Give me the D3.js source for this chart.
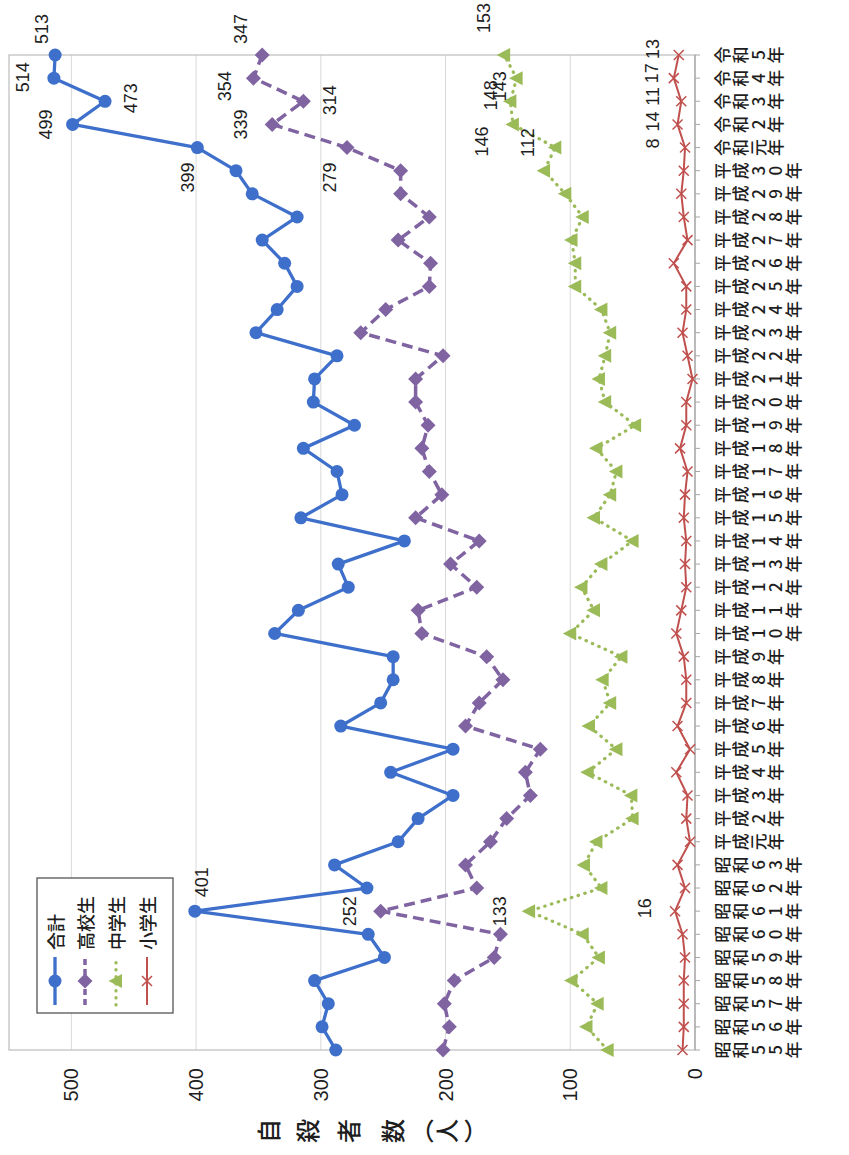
<!DOCTYPE html>
<html lang="ja">
<head>
<meta charset="utf-8">
<script src="https://cdn.jsdelivr.net/npm/d3@7"></script>
<style>
  html, body { margin: 0; padding: 0; background: #fff; }
  svg { display: block; }
  .num { font-family: "Liberation Sans", Arial, "Noto Sans CJK JP", sans-serif; fill: #1e1e1e; }
  .jp  { font-family: "Noto Sans CJK JP", sans-serif; fill: #1e1e1e; }
</style>
</head>
<body>
<svg id="chart" width="849" height="1155"></svg>
<script>
// 年度（昭和55年〜令和5年）
const years = [
  "昭和55年","昭和56年","昭和57年","昭和58年","昭和59年","昭和60年","昭和61年","昭和62年","昭和63年",
  "平成元年","平成2年","平成3年","平成4年","平成5年","平成6年","平成7年","平成8年","平成9年","平成10年",
  "平成11年","平成12年","平成13年","平成14年","平成15年","平成16年","平成17年","平成18年","平成19年","平成20年",
  "平成21年","平成22年","平成23年","平成24年","平成25年","平成26年","平成27年","平成28年","平成29年","平成30年",
  "令和元年","令和2年","令和3年","令和4年","令和5年"
];

// 自殺者数（人）
const total = [288,299,294,305,249,262,401,263,289,238,222,194,244,194,284,252,242,242,337,318,278,286,233,316,283,287,314,273,306,305,287,352,335,319,329,347,319,355,368,399,499,473,514,513];
const highSchool = [202,197,201,193,161,156,252,175,184,164,151,132,136,124,184,173,154,167,219,222,175,196,173,224,203,213,219,214,224,224,202,268,248,213,212,238,213,236,236,279,339,314,354,347];
const juniorHigh = [70,87,78,99,77,90,133,75,89,79,50,51,86,63,85,68,74,59,100,81,91,75,50,81,68,63,79,48,72,77,72,68,75,96,96,99,90,104,121,112,146,148,143,153];
const elementary = [10,9,9,9,8,10,16,8,14,4,7,6,15,4,14,7,7,9,15,11,7,8,7,9,8,6,12,7,7,2,6,10,7,7,17,6,9,11,9,8,14,11,17,13];

const valueTicks = [0, 100, 200, 300, 400, 500];
const seriesNames = ["合計", "高校生", "中学生", "小学生"];
const axisTitle = ["自", "殺", "者", "数", "︵", "人", "︶"];

// Years that carry value labels
const labelledYears = ["昭和61年", "令和元年", "令和2年", "令和3年", "令和4年", "令和5年"];

// Label offsets (dx along the year axis, dy along the value axis), per series and labelled year
const labelOffsets = {
  total:      [[29, 7], [-30, -9], [0, -27], [3, 26], [1, -31], [26, -13]],
  highSchool: [[0, -31], [-30, -17], [0, -31], [1, 27], [-8, -28], [26, -21]],
  juniorHigh: [[0, -29], [5, -27], [-17, -31], [6, -19], [-8, -17], [37, -20]],
  elementary: [[3, -30], [4, -32], [3, -25], [5, -28], [5, -22], [6, -26]]
};

const svg = d3.select("#chart");
svg.append("rect").attr("width", 849).attr("height", 1155).attr("fill", "#fff");

// The chart is laid out in a 1155 x 849 frame and turned a quarter turn counter-clockwise
const g = svg.append("g").attr("transform", "translate(0,1155) rotate(-90)");

const plot = { left: 105, right: 1100, top: 9, bottom: 695 };

const x = d3.scalePoint().domain(years).range([plot.left, plot.right]).padding(0);
const y = d3.scaleLinear().domain([0, 550]).range([plot.bottom, plot.top]);

// Gridlines
g.append("g").selectAll("line")
  .data(valueTicks.filter(t => t > 0))
  .join("line")
  .attr("x1", plot.left).attr("x2", plot.right)
  .attr("y1", d => y(d)).attr("y2", d => y(d))
  .attr("stroke", "#d9d9d9").attr("stroke-width", 1);

// Plot frame
g.append("rect")
  .attr("x", plot.left).attr("y", plot.top)
  .attr("width", plot.right - plot.left).attr("height", plot.bottom - plot.top)
  .attr("fill", "none").attr("stroke", "#bdbdbd").attr("stroke-width", 1.2);

// Category axis line and tick marks
g.append("line")
  .attr("x1", plot.left).attr("x2", plot.right)
  .attr("y1", plot.bottom).attr("y2", plot.bottom)
  .attr("stroke", "#a6a6a6").attr("stroke-width", 1.2);
g.append("g").selectAll("line")
  .data(years)
  .join("line")
  .attr("x1", d => x(d)).attr("x2", d => x(d))
  .attr("y1", plot.bottom).attr("y2", plot.bottom + 5)
  .attr("stroke", "#a6a6a6").attr("stroke-width", 1);

// Value axis labels
g.append("g").selectAll("text")
  .data(valueTicks)
  .join("text")
  .attr("class", "num")
  .attr("x", plot.left - 18)
  .attr("y", d => y(d))
  .attr("text-anchor", "end")
  .attr("dominant-baseline", "central")
  .attr("font-size", 20)
  .text(d => d);

// Value axis title, written top to bottom
const titleAdvance = [0, 39, 41, 44, 29, 25, 29];
g.append("g").selectAll("text")
  .data(axisTitle)
  .join("text")
  .attr("class", "jp")
  .attr("x", 24)
  .attr("y", (d, i) => 267 + d3.sum(titleAdvance.slice(0, i + 1)))
  .attr("text-anchor", "middle")
  .attr("dominant-baseline", "central")
  .attr("font-size", 24)
  .attr("font-weight", 500)
  .text(d => d);

// Year labels, one character per row
const yearLabels = g.append("g").selectAll("text")
  .data(years)
  .join("text")
  .attr("class", "jp")
  .attr("font-size", 17)
  .attr("font-weight", 500)
  .attr("text-anchor", "middle");
yearLabels.selectAll("tspan")
  .data(d => Array.from(d).map(ch => ({ ch, year: d })))
  .join("tspan")
  .attr("x", d => x(d.year))
  .attr("y", (d, i) => 729 + i * 17.8)
  .text(d => d.ch);

// Series definitions
const blue = "#3d6fcb", purple = "#8064a2", green = "#9bbb59", red = "#c0504d";
const markers = {
  circle: sel => sel.append("circle").attr("r", 6.5).attr("fill", blue),
  diamond: sel => sel.append("path").attr("d", "M0,-7.5L7.5,0L0,7.5L-7.5,0Z").attr("fill", purple),
  triangle: sel => sel.append("path").attr("d", "M0,-7.5L7,6L-7,6Z").attr("fill", green),
  cross: sel => sel.append("path").attr("d", "M-5,-5L5,5M-5,5L5,-5").attr("stroke", red).attr("stroke-width", 1.5).attr("fill", "none")
};

const series = [
  { key: "total", name: seriesNames[0], values: total, color: blue, width: 3.3, dash: null, cap: "butt", marker: "circle" },
  { key: "highSchool", name: seriesNames[1], values: highSchool, color: purple, width: 3.5, dash: "11,6", cap: "butt", marker: "diamond" },
  { key: "juniorHigh", name: seriesNames[2], values: juniorHigh, color: green, width: 3.2, dash: "0.5,6.5", cap: "round", marker: "triangle" },
  { key: "elementary", name: seriesNames[3], values: elementary, color: red, width: 2, dash: null, cap: "butt", marker: "cross" }
];

const line = d3.line().x(d => x(d.year)).y(d => y(d.value));

// Draw from the bottom series up so the total sits on top
series.slice().reverse().forEach(s => {
  const pts = years.map((yr, i) => ({ year: yr, value: s.values[i] }));
  const sg = g.append("g");
  sg.append("path")
    .attr("d", line(pts))
    .attr("fill", "none")
    .attr("stroke", s.color)
    .attr("stroke-width", s.width)
    .attr("stroke-linejoin", "round")
    .attr("stroke-linecap", s.cap)
    .attr("stroke-dasharray", s.dash);
  const m = sg.selectAll("g.m")
    .data(pts)
    .join("g")
    .attr("class", "m")
    .attr("transform", d => `translate(${x(d.year)},${y(d.value)})`);
  markers[s.marker](m);
});

// Value labels
series.forEach(s => {
  labelledYears.forEach((yr, k) => {
    const i = years.indexOf(yr);
    const v = s.values[i];
    const off = labelOffsets[s.key][k];
    g.append("text")
      .attr("class", "num")
      .attr("x", x(yr) + off[0])
      .attr("y", y(v) + off[1])
      .attr("text-anchor", "middle")
      .attr("dominant-baseline", "central")
      .attr("font-size", 18)
      .text(v);
  });
});

// Legend
const legend = g.append("g");
legend.append("rect")
  .attr("x", 142).attr("y", 37).attr("width", 135).attr("height", 136)
  .attr("fill", "#fff").attr("stroke", "#555").attr("stroke-width", 1.3);
const legendRows = [55, 85, 116, 147];
series.forEach((s, i) => {
  const row = legend.append("g").attr("transform", `translate(0,${legendRows[i]})`);
  row.append("line")
    .attr("x1", 150).attr("x2", 198).attr("y1", 0).attr("y2", 0)
    .attr("stroke", s.color).attr("stroke-width", s.width)
    .attr("stroke-linecap", s.cap)
    .attr("stroke-dasharray", s.dash ? (s.dash === "11,6" ? "6,4" : s.dash) : null);
  const mk = row.append("g").attr("transform", "translate(174,0)");
  markers[s.marker](mk);
  row.append("text")
    .attr("class", "jp")
    .attr("x", 205).attr("y", 0)
    .attr("dominant-baseline", "central")
    .attr("font-size", 18)
    .attr("font-weight", 500)
    .text(s.name);
});
</script>
</body>
</html>
